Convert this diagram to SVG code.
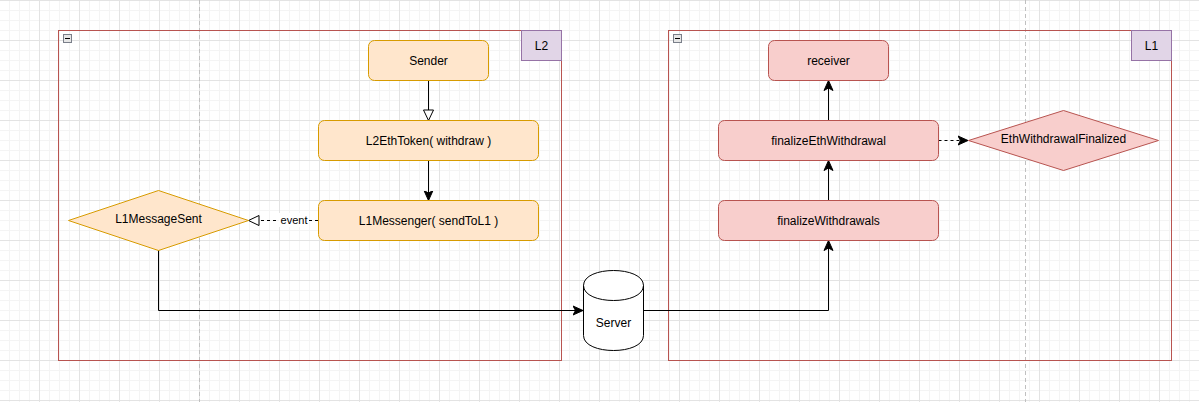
<svg xmlns="http://www.w3.org/2000/svg" width="1199" height="402" viewBox="0 0 1199 402">
<style>
  text { font-family: "Liberation Sans", Arial, sans-serif; font-size: 12px; fill: #000; text-anchor: middle; dominant-baseline: central; }
  .orange { fill: #ffe6cc; stroke: #d79b00; stroke-width: 1; }
  .red { fill: #f8cecc; stroke: #b85450; stroke-width: 1; }
  .container { fill: none; stroke: #b85450; stroke-width: 1; }
  .tag { fill: #e1d5e7; stroke: #9673a6; stroke-width: 1; }
  .edge { fill: none; stroke: #000; stroke-width: 1; }
  .dash { stroke-dasharray: 3 3; }
  .pagebreak { stroke: #c0c0c0; stroke-width: 1; stroke-dasharray: 4 3; }
</style>
<defs>
  <pattern id="minor" x="-1" y="0" width="10" height="10" patternUnits="userSpaceOnUse">
    <rect x="0" y="0" width="1" height="10" fill="#f4f4f4"/>
    <rect x="0" y="0" width="10" height="1" fill="#f4f4f4"/>
  </pattern>
  <pattern id="major" x="-1" y="0" width="40" height="40" patternUnits="userSpaceOnUse">
    <rect x="0" y="0" width="1" height="40" fill="#e3e3e3"/>
    <rect x="0" y="0" width="40" height="1" fill="#e3e3e3"/>
  </pattern>
  <marker id="arrFill" markerUnits="userSpaceOnUse" markerWidth="12" markerHeight="12" viewBox="0 0 12 12" refX="10" refY="6" orient="auto">
    <path d="M0,1.5 L10,6 L0,10.5 L2.5,6 Z" fill="#000" stroke="#000" stroke-width="1"/>
  </marker>
  <marker id="arrOpen" markerUnits="userSpaceOnUse" markerWidth="14" markerHeight="14" viewBox="0 0 14 14" refX="11.5" refY="7" orient="auto">
    <path d="M1,2 L11.5,7 L1,12 Z" fill="#fff" stroke="#000" stroke-width="1"/>
  </marker>
</defs>

<rect x="0" y="0" width="1199" height="402" fill="#ffffff"/>
<rect x="0" y="0" width="1199" height="402" fill="url(#minor)"/>
<rect x="0" y="0" width="1199" height="402" fill="url(#major)"/>
<line class="pagebreak" x1="199.5" y1="0" x2="199.5" y2="402"/>
<line class="pagebreak" x1="1025.5" y1="0" x2="1025.5" y2="402"/>

<g id="container-L2">
  <rect class="container" x="58.5" y="30.5" width="503" height="330"/>
  <rect x="63.5" y="34.5" width="8" height="8" fill="#e6e6e6" stroke="#7a7f8a" stroke-width="1"/>
  <line x1="65" y1="38.5" x2="70" y2="38.5" stroke="#000" stroke-width="1"/>
  <rect class="tag" x="521.5" y="30.5" width="40" height="30"/>
  <text x="541.5" y="45.5">L2</text>
</g>

<g id="container-L1">
  <rect class="container" x="668.5" y="30.5" width="503" height="330"/>
  <rect x="673.5" y="34.5" width="8" height="8" fill="#e6e6e6" stroke="#7a7f8a" stroke-width="1"/>
  <line x1="675" y1="38.5" x2="680" y2="38.5" stroke="#000" stroke-width="1"/>
  <rect class="tag" x="1131.5" y="30.5" width="40" height="30"/>
  <text x="1151.5" y="45.5">L1</text>
</g>

<g id="connectors">
  <line class="edge" x1="428.5" y1="80.5" x2="428.5" y2="120.5" marker-end="url(#arrOpen)"/>
  <line class="edge" x1="428.5" y1="160.5" x2="428.5" y2="200.5" marker-end="url(#arrFill)"/>
  <g id="edge-event">
    <line class="edge dash" x1="318" y1="220.5" x2="248.5" y2="220.5" marker-end="url(#arrOpen)"/>
    <rect x="279" y="213" width="30" height="14" fill="#ffffff"/>
    <text x="294" y="220" style="font-size:11px">event</text>
  </g>
  <polyline class="edge" points="158.5,250 158.5,310.5 583,310.5" marker-end="url(#arrFill)"/>
  <polyline class="edge" points="643,310.5 828.5,310.5 828.5,240.5" marker-end="url(#arrFill)"/>
  <line class="edge" x1="828.5" y1="200" x2="828.5" y2="160.5" marker-end="url(#arrFill)"/>
  <line class="edge" x1="828.5" y1="120" x2="828.5" y2="80.5" marker-end="url(#arrFill)"/>
  <line class="edge dash" x1="938.5" y1="140.5" x2="968" y2="140.5" marker-end="url(#arrFill)"/>
</g>

<g id="node-sender">
  <rect class="orange" x="368.5" y="40.5" width="120" height="40" rx="6"/>
  <text x="428.5" y="60.5">Sender</text>
</g>
<g id="node-l2ethtoken">
  <rect class="orange" x="318.5" y="120.5" width="220" height="40" rx="6"/>
  <text x="428.5" y="140.5">L2EthToken( withdraw )</text>
</g>
<g id="node-l1messenger">
  <rect class="orange" x="318.5" y="200.5" width="220" height="40" rx="6"/>
  <text x="428.5" y="220.5">L1Messenger( sendToL1 )</text>
</g>
<g id="node-l1messagesent">
  <polygon class="orange" points="68.5,220.5 158.5,190.5 248.5,220.5 158.5,250.5"/>
  <text x="158.5" y="218.5">L1MessageSent</text>
</g>

<g id="node-server">
  <path d="M583.5,285.5 C583.5,265.5 643.5,265.5 643.5,285.5 L643.5,335.5 C643.5,355.5 583.5,355.5 583.5,335.5 Z" fill="#ffffff" stroke="#000" stroke-width="1"/>
  <path d="M583.5,285.5 C583.5,305.5 643.5,305.5 643.5,285.5" fill="none" stroke="#000" stroke-width="1"/>
  <text x="613.5" y="322.5">Server</text>
</g>

<g id="node-receiver">
  <rect class="red" x="768.5" y="40.5" width="120" height="40" rx="6"/>
  <text x="828.5" y="60.5">receiver</text>
</g>
<g id="node-finalizeethwithdrawal">
  <rect class="red" x="718.5" y="120.5" width="220" height="40" rx="6"/>
  <text x="828.5" y="140.5">finalizeEthWithdrawal</text>
</g>
<g id="node-finalizewithdrawals">
  <rect class="red" x="718.5" y="200.5" width="220" height="40" rx="6"/>
  <text x="828.5" y="220.5">finalizeWithdrawals</text>
</g>
<g id="node-ethwithdrawalfinalized">
  <polygon class="red" points="968.5,140.5 1063.5,110.5 1158.5,140.5 1063.5,170.5"/>
  <text x="1063.5" y="138.5">EthWithdrawalFinalized</text>
</g>
</svg>
